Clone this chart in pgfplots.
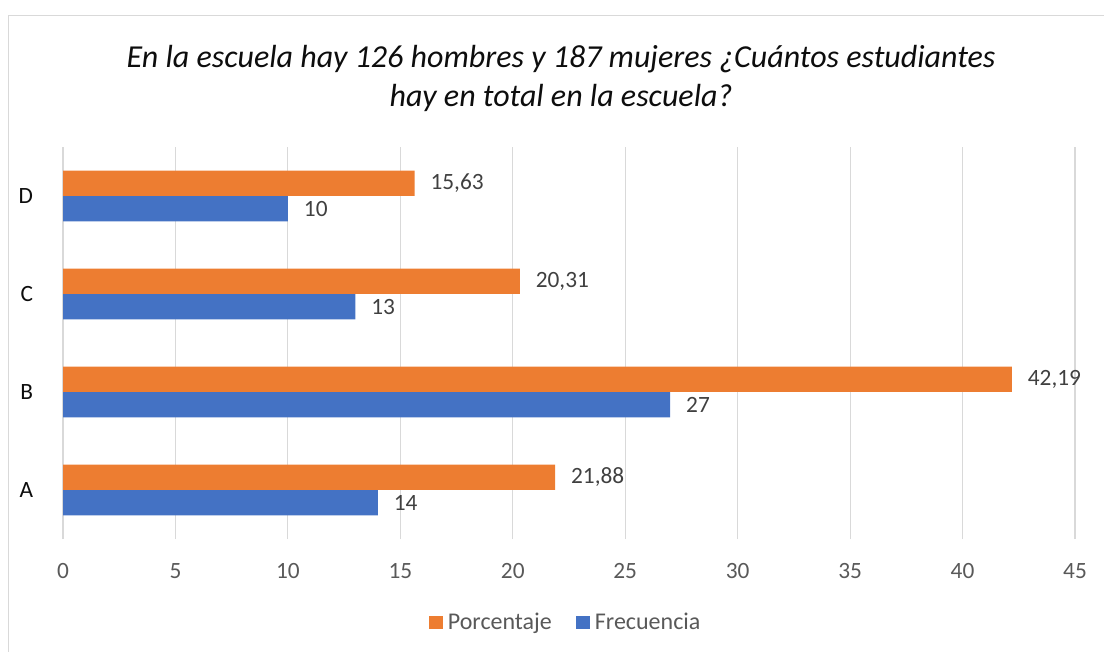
\documentclass[border=0pt]{standalone}
\usepackage{pgfplots}
\pgfplotsset{compat=1.18}
\usepackage{fontspec}
\setmainfont{Carlito}
\definecolor{corange}{HTML}{ED7D31}
\definecolor{cblue}{HTML}{4472C4}
\definecolor{cgrid}{HTML}{D9D9D9}
\definecolor{ctick}{HTML}{595959}
\definecolor{clabel}{HTML}{404040}
\definecolor{ctitle}{HTML}{0D0D0D}
\pgfkeys{/pgf/number format/assume math mode=true}
\pgfplotsset{
  sqlegend/.style={
    legend image code/.code={\fill[##1] (0pt,-5.1pt) rectangle (10.3pt,5.1pt);}},
}
\begin{document}
\begin{tikzpicture}[x=0.75pt,y=-0.75pt]
\path[use as bounding box] (0,0) rectangle (1104,652);
% chart frame (cut by the image edge)
\draw[cgrid,line width=1.1pt] (8.5,652) -- (8.5,15.5) -- (1104,15.5);
% title
\node[font=\fontsize{24}{29}\selectfont\itshape,text=ctitle,anchor=base] at (561,68)
  {En la escuela hay 126 hombres y 187 mujeres ¿Cuántos estudiantes};
\node[font=\fontsize{24}{29}\selectfont\itshape,text=ctitle,anchor=base] at (561,107)
  {hay en total en la escuela?};
\begin{axis}[
  at={(47.25pt,-404.25pt)}, anchor=south west,
  scale only axis, width=759pt, height=294pt,
  xbar, bar width=19.1pt, sqlegend,
  xmin=0, xmax=45, ymin=0.5, ymax=4.5,
  xtick={0,5,...,45}, ytick={1,2,3,4}, yticklabels={A,B,C,D},
  /pgf/number format/assume math mode=true,
  xmajorgrids, grid style={cgrid,line width=0.9pt},
  axis line style={draw=none}, tick style={draw=none},
  xticklabel style={font=\fontsize{17.5}{20}\selectfont,text=ctick,anchor=base,yshift=-29.5pt},
  yticklabel style={font=\fontsize{17.5}{20}\selectfont,text=ctitle,anchor=east,inner sep=0pt,xshift=-18pt},
  nodes near coords={\pgfmathprintnumber[use comma,fixed,precision=2,assume math mode=true]{\pgfplotspointmeta}},
  nodes near coords style={font=\fontsize{17.5}{20}\selectfont,text=clabel,anchor=west,xshift=8.5pt},
  legend style={draw=none,fill=none,at={(0.497,-0.213)},anchor=center,
    font=\fontsize{18}{20}\selectfont,text=ctick,legend columns=2,
    /tikz/every odd column/.append style={column sep=2pt},
    /tikz/every even column/.append style={column sep=16pt}},
]
\addplot[fill=corange,draw=none,bar shift=9.56pt] coordinates {(21.88,1) (42.19,2) (20.31,3) (15.63,4)};
\addplot[fill=cblue,draw=none,bar shift=-9.56pt] coordinates {(14,1) (27,2) (13,3) (10,4)};
\legend{Porcentaje,Frecuencia}
\end{axis}
\end{tikzpicture}
\end{document}
